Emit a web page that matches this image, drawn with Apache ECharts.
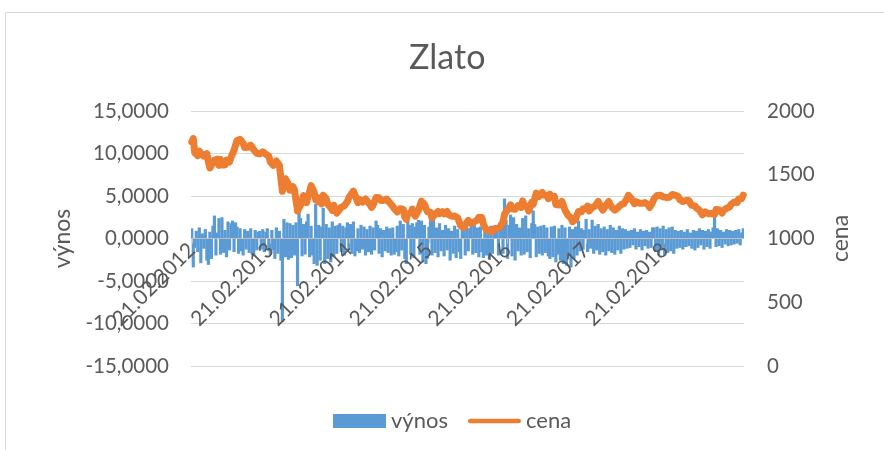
<!DOCTYPE html>
<html><head><meta charset="utf-8">
<script src="https://cdn.jsdelivr.net/npm/echarts@6/dist/echarts.min.js"></script>
<style>html,body{margin:0;padding:0;background:#fff}#c{width:884px;height:450px}</style>
</head><body><div id="c"></div>
<script>
// Weekly samples starting 21.02.2012 (one value per week)
const startDate = '21.02.2012';
const stepDays = 7;

// cena (gold price, USD) – weekly
const cena2012 = [1757,1784,1673,1680,1650,1685,1668,1660,1646,1642,1665,1603,1553,1573,1563,1615,1610,1622,1574,1620,1577,1589,1577,1615,1609,1600,1637,1665,1693,1733,1769,1763,1777,1766,1747,1713,1711,1715,1725,1732,1746,1696,1708,1668,1660];
const cena2013 = [1664,1655,1680,1690,1662,1674,1646,1600,1590,1574,1587,1608,1598,1575,1576,1370,1424,1469,1454,1424,1378,1383,1406,1381,1367,1215,1240,1246,1287,1336,1324,1281,1334,1365,1415,1412,1363,1306,1323,1288,1317,1272,1339,1354,1311,1270,1275,1241,1220,1261,1234,1199,1204];
const cena2014 = [1230,1246,1241,1257,1254,1290,1320,1338,1348,1372,1359,1311,1281,1307,1302,1286,1295,1311,1295,1294,1265,1244,1260,1272,1321,1326,1320,1299,1307,1299,1288,1310,1296,1281,1266,1253,1235,1221,1208,1211,1234,1245,1228,1168,1150,1193,1196,1200,1231,1195,1175,1200];
const cena2015 = [1219,1231,1294,1292,1268,1236,1210,1200,1206,1161,1150,1190,1187,1212,1195,1200,1211,1193,1190,1212,1187,1191,1175,1183,1177,1172,1163,1155,1100,1097,1086,1108,1117,1142,1139,1118,1105,1131,1128,1145,1166,1170,1164,1113,1090,1068,1073,1061,1075,1055,1075,1068];
const cena2016 = [1078,1086,1089,1111,1128,1190,1207,1224,1240,1264,1233,1243,1230,1226,1258,1254,1244,1295,1266,1277,1249,1215,1245,1285,1268,1311,1356,1350,1330,1320,1362,1340,1350,1337,1312,1348,1324,1316,1330,1266,1255,1262,1266,1290,1284,1224,1212,1183,1170,1160,1131,1138];
const cena2017 = [1151,1185,1212,1211,1210,1234,1227,1234,1254,1216,1202,1243,1253,1255,1269,1291,1267,1257,1222,1232,1258,1263,1290,1263,1245,1248,1223,1215,1240,1253,1266,1259,1273,1287,1313,1339,1330,1311,1293,1273,1290,1287,1277,1271,1276,1281,1282,1294,1266,1243,1262,1284];
const cena2018 = [1313,1318,1338,1350,1340,1327,1327,1330,1322,1321,1323,1312,1345,1338,1340,1347,1328,1306,1313,1290,1292,1298,1295,1299,1276,1260,1251,1256,1239,1225,1222,1215,1185,1194,1209,1194,1194,1201,1196,1188,1189,1227,1233,1223,1230,1200,1222,1213,1237,1243,1248,1268];
const cena2019 = [1282,1286,1290,1282,1310,1316,1312,1340];

// výnos (daily return, %) – one representative value per week
const vynos2012 = [1.2,-3.4,-1.1,0.9,-1.6,1.3,-2.9,0.6,-1.2,1.1,-2.6,-3.1,0.8,-2.4,1.5,2.7,-2.0,0.7,2.4,-1.9,2.5,-1.7,1.0,-2.2,2.0,-1.4,1.8,2.1,-1.6,1.9,1.4,-1.8,1.2,-1.5,-2.0,1.1,-1.3,0.9,-1.7,1.2,-1.9,-2.1,1.0,-1.4,0.8];
const vynos2013 = [0.9,-1.3,1.1,-1.6,0.8,1.2,-1.5,-1.9,1.0,-1.4,-2.4,1.3,-1.8,0.9,-2.6,-9.8,2.3,-2.2,1.9,-2.5,1.8,-2.3,1.6,-2.0,1.9,-5.6,3.3,2.4,-2.1,1.7,-1.9,2.0,2.9,-2.2,1.5,-2.0,-3.0,4.1,-3.2,1.6,-2.6,1.4,3.6,-3.0,1.7,-2.4,1.3,-2.8,2.0,-2.2,1.5,-1.8,1.6];
const vynos2014 = [1.8,-1.6,1.5,-2.0,1.3,1.9,-1.4,1.7,-1.8,2.0,-2.1,-1.5,1.2,-1.7,1.6,-1.3,1.4,-2.0,1.1,-1.6,1.5,-1.9,1.3,-1.4,2.1,1.6,-1.8,1.2,-2.2,1.0,-1.5,1.4,-1.7,1.2,-2.0,1.3,-1.9,-1.6,1.5,-2.1,2.1,-1.4,1.7,-2.4,-3.0,2.1,1.6,-1.9,1.8,-2.3,1.4,1.9];
const vynos2015 = [2.2,-1.9,2.1,-2.8,1.6,-3.0,-2.4,1.4,2.5,-2.0,2.4,-1.7,1.3,-2.2,1.8,-1.5,1.0,-2.1,1.6,-1.4,1.2,-2.6,0.9,-1.8,1.5,-2.3,1.1,-1.6,-2.4,1.3,1.7,-2.0,1.4,-1.5,1.2,1.5,-1.9,1.6,-1.7,1.3,-2.2,1.4,-1.6,-2.3,1.7,-2.0,1.2,-2.5,1.5,-1.8,1.3,1.6];
const vynos2016 = [1.5,-2.0,1.2,2.1,-1.8,4.7,2.2,-2.4,1.6,2.8,-2.1,2.5,-2.6,1.7,-1.5,1.3,-2.0,2.4,-1.9,2.7,-1.6,1.2,-2.3,1.8,3.3,1.7,-2.2,1.4,-1.8,1.5,-2.0,1.6,-1.7,1.3,-2.1,-2.4,1.4,-2.2,1.5,-2.8,-1.9,1.2,-2.6,1.6,-3.0,1.3,-3.2,-2.0,1.4,-3.4,1.1,-2.4];
const vynos2017 = [1.4,-2.0,2.1,-1.5,1.2,-1.3,1.0,2.3,-1.6,1.1,-1.2,2.2,-1.8,1.5,-1.4,1.7,-1.9,1.2,-1.6,1.4,-2.0,1.1,-1.5,1.6,-1.7,1.3,-1.9,1.0,-1.4,1.5,-1.8,1.2,-1.3,1.1,-1.2,0.9,-1.1,1.0,-0.8,1.2,-1.3,0.8,-1.0,1.1,-1.4,0.9,-0.9,1.0,-1.2,0.8,-1.1,1.3];
const vynos2018 = [1.3,-1.6,1.4,-1.9,1.2,-1.4,1.5,-2.0,1.1,-1.7,1.3,-1.5,1.4,-1.8,1.0,-1.2,0.9,-1.1,1.0,-1.3,0.8,-1.0,1.1,-0.9,0.7,-1.2,1.0,-1.4,0.9,-1.1,1.2,-0.8,1.0,-1.3,0.9,-1.0,1.1,-1.2,0.8,1.3,2.5,-1.0,1.2,-0.9,1.0,-1.1,0.8,-0.7,1.1,-0.9,1.0,-0.8];
const vynos2019 = [0.9,-0.7,1.0,-0.6,1.1,-0.8,0.7,1.2];

// x-axis tick labels
const tickLabels = ['21.02.2012','21.02.2013','21.02.2014','21.02.2015','21.02.2016','21.02.2017','21.02.2018'];

const cena = [].concat(cena2012,cena2013,cena2014,cena2015,cena2016,cena2017,cena2018,cena2019);
const vynos = [].concat(vynos2012,vynos2013,vynos2014,vynos2015,vynos2016,vynos2017,vynos2018,vynos2019);

function parseD(s){const p=s.split('.');return Date.UTC(+p[2],+p[1]-1,+p[0]);}
function fmtD(t){const d=new Date(t);const z=n=>(n<10?'0':'')+n;return z(d.getUTCDate())+'.'+z(d.getUTCMonth()+1)+'.'+d.getUTCFullYear();}
const t0 = parseD(startDate);
const times = cena.map((_,i)=>t0+i*stepDays*864e5);
const categories = times.map(fmtD);
const labelAt = new Map();
tickLabels.forEach(l=>{
  const t=parseD(l); let best=0, bd=Infinity;
  times.forEach((tt,i)=>{const d=Math.abs(tt-t); if(d<bd){bd=d;best=i;}});
  labelAt.set(best,l);
});

const FONT = 'Lato';
const TXT = '#595959';
const GRID = {left:191, right:140, top:111, bottom:84};
const Y1MIN = -15, Y1MAX = 15;
// distance from grid bottom to the value-0 line of the left axis
const plotH = 450 - GRID.top - GRID.bottom;
const zeroOffset = plotH * (0 - Y1MIN) / (Y1MAX - Y1MIN);

const chart = echarts.init(document.getElementById('c'), null, {renderer:'canvas'});
chart.setOption({
  animation:false,
  textStyle:{fontFamily:FONT},
  title:{text:'Zlato', left:404, top:36, textStyle:{fontFamily:FONT, fontSize:34, fontWeight:'normal', color:TXT}},
  legend:{top:405, left:328, itemWidth:53, itemHeight:14, itemGap:20,
    textStyle:{fontFamily:FONT, fontSize:22, color:TXT},
    data:[{name:'výnos', icon:'rect'},
          {name:'cena', icon:'path://M2.5,0 H53.5 A2.5,2.5 0 0 1 53.5,5 H2.5 A2.5,2.5 0 0 1 2.5,0 Z'}]},
  grid:GRID,
  graphic:[{type:'rect', silent:true, z:-10, shape:{x:5.5, y:12.5, width:900, height:500}, style:{fill:'none', stroke:'#D9D9D9', lineWidth:1}}],
  xAxis:{type:'category', data:categories, boundaryGap:true, offset:-zeroOffset, z:5,
    axisLine:{onZero:false, lineStyle:{color:'#BFBFBF', width:1}},
    axisTick:{show:true, alignWithLabel:true, length:5, interval:(i)=>labelAt.has(i), lineStyle:{color:'#BFBFBF'}},
    axisLabel:{interval:(i)=>labelAt.has(i), formatter:(v,i)=>labelAt.get(i)||'', rotate:45, fontFamily:FONT, fontSize:21, color:TXT, margin:8},
    splitLine:{show:false}},
  yAxis:[
    {type:'value', min:Y1MIN, max:Y1MAX, interval:5, name:'výnos', nameLocation:'middle', nameGap:112, nameRotate:90,
      nameTextStyle:{fontFamily:FONT, fontSize:23, color:TXT},
      axisLine:{show:false}, axisTick:{show:false},
      axisLabel:{formatter:(v)=>v.toFixed(4).replace('.',','), fontFamily:FONT, fontSize:20.5, color:TXT, margin:22},
      splitLine:{lineStyle:{color:'#D9D9D9', width:1}}},
    {type:'value', position:'right', min:0, max:2000, interval:500, name:'cena', nameLocation:'middle', nameGap:85, nameRotate:90,
      nameTextStyle:{fontFamily:FONT, fontSize:23, color:TXT},
      axisLine:{show:false}, axisTick:{show:false},
      axisLabel:{formatter:(v)=>String(v), fontFamily:FONT, fontSize:20.5, color:TXT, margin:23},
      splitLine:{show:false}}
  ],
  series:[
    {name:'výnos', type:'bar', data:vynos, barCategoryGap:'0%', barWidth:3.2, itemStyle:{color:'#5B9BD5'}, z:2},
    {name:'cena', type:'line', yAxisIndex:1, data:cena, symbol:'none', showSymbol:false, z:3,
      itemStyle:{color:'#ED7D31'}, lineStyle:{width:7, color:'#ED7D31', cap:'round', join:'round'}}
  ]
});
</script></body></html>
